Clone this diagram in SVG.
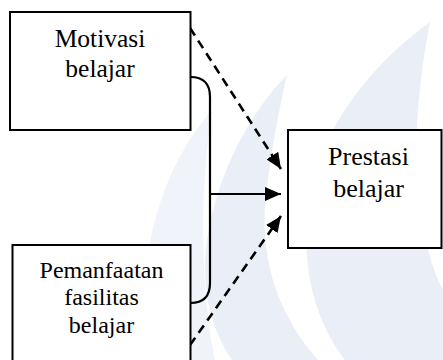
<svg xmlns="http://www.w3.org/2000/svg" width="443" height="360" viewBox="0 0 443 360">
<defs>
<style>
.box{fill:#fff;stroke:#000;stroke-width:2}
.t{font-family:"Liberation Serif","Times New Roman",serif;fill:#000;text-anchor:middle}
.wm{fill:#d9e2f1;stroke:none}
.ln{fill:none;stroke:#000;stroke-width:2.2}
.dash{fill:none;stroke:#000;stroke-width:2.6;stroke-dasharray:9 6}
</style>
<marker id="ah" viewBox="0 0 16 14" refX="16" refY="7" markerWidth="16" markerHeight="14" markerUnits="userSpaceOnUse" orient="auto">
<path d="M0 0 L16 7 L0 14 Z" fill="#000"/>
</marker>
</defs>
<rect width="443" height="360" fill="#fff"/>
<g id="watermark" opacity="0.55">
<path class="wm" d="M430 22 C385 55 330 110 312 185 C298 250 310 315 345 360 L443 360 L443 290 C418 240 405 150 430 22 Z"/>
<path class="wm" d="M287 75 C252 110 218 170 207 240 C200 290 212 330 232 360 L318 360 C282 320 258 262 266 195 C272 145 280 105 287 75 Z"/>
<path class="wm" d="M212 110 C165 165 138 240 142 360 L215 360 C202 300 198 200 212 110 Z" opacity="0.7"/>
</g>
<g id="connectors">
<path class="ln" d="M190.5 77 Q210 77 210 97 L210 283 Q210 303 190.5 303"/>
<line class="ln" x1="210" y1="194" x2="281" y2="194" marker-end="url(#ah)"/>
<line class="dash" x1="190" y1="28" x2="281" y2="169" marker-end="url(#ah)"/>
<line class="dash" x1="190" y1="345" x2="281" y2="216" marker-end="url(#ah)"/>
</g>
<g id="motivasi">
<rect class="box" x="10" y="12" width="180.5" height="118"/>
<text class="t" x="100" y="47" font-size="25.5">Motivasi</text>
<text class="t" x="100" y="77" font-size="25.5">belajar</text>
</g>
<g id="prestasi">
<rect class="box" x="288" y="130" width="153.5" height="118"/>
<text class="t" x="368.5" y="165" font-size="26">Prestasi</text>
<text class="t" x="368.5" y="196.5" font-size="26">belajar</text>
</g>
<g id="pemanfaatan">
<rect class="box" x="12.5" y="245" width="178" height="120"/>
<text class="t" x="101.5" y="278" font-size="24">Pemanfaatan</text>
<text class="t" x="101.5" y="305" font-size="24">fasilitas</text>
<text class="t" x="101.5" y="333" font-size="24">belajar</text>
</g>
</svg>
